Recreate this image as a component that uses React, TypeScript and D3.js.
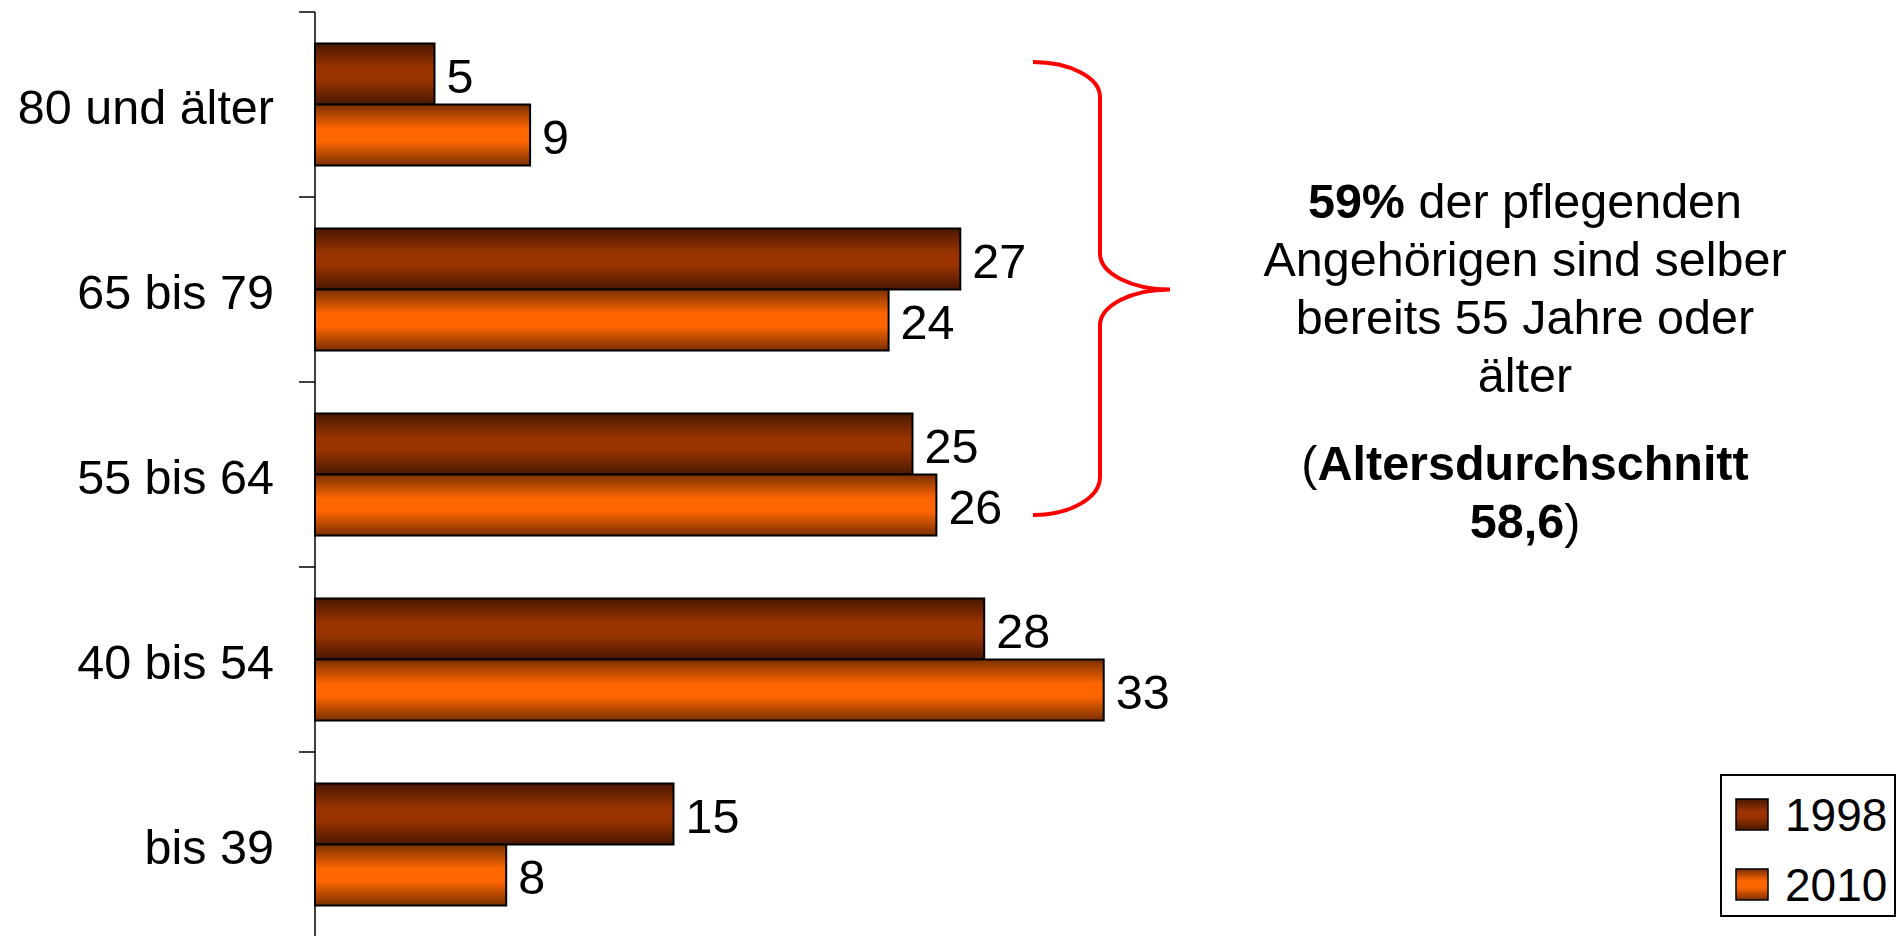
import * as d3 from "d3";
import { useEffect, useRef } from "react";

const categories = ["80 und älter", "65 bis 79", "55 bis 64", "40 bis 54", "bis 39"];
const seriesNames = ["1998", "2010"];
const values1998 = [5, 27, 25, 28, 15];
const values2010 = [9, 24, 26, 33, 8];

const seriesColors: Record<string, { base: string; dark: string }> = {
  "1998": { base: "#993300", dark: "#4a1800" },
  "2010": { base: "#ff6600", dark: "#7a3000" },
};

const FONT = "'Liberation Sans', Arial, sans-serif";
const FS = "48.5px";

const App = () => {
  const svgRef = useRef<SVGSVGElement>(null);

  useEffect(() => {
    const svg = d3.select(svgRef.current);
    svg.selectAll("*").remove();

    const width = 1897;
    const height = 936;
    svg.attr("width", width).attr("height", height);

    const axisX = 315;
    const top = 12;
    const bottom = 937;

    // gradients for the bars
    const defs = svg.append("defs");
    seriesNames.forEach((s) => {
      const grad = defs
        .append("linearGradient")
        .attr("id", `grad-${s}`)
        .attr("x1", 0)
        .attr("y1", 0)
        .attr("x2", 0)
        .attr("y2", 1);
      grad.append("stop").attr("offset", "0%").attr("stop-color", seriesColors[s].dark);
      grad.append("stop").attr("offset", "40%").attr("stop-color", seriesColors[s].base);
      grad.append("stop").attr("offset", "60%").attr("stop-color", seriesColors[s].base);
      grad.append("stop").attr("offset", "100%").attr("stop-color", seriesColors[s].dark);
    });

    const y0 = d3.scaleBand().domain(categories).range([top, bottom]).padding(0);
    const y1 = d3
      .scaleBand()
      .domain(seriesNames)
      .range([0, y0.bandwidth()])
      .paddingInner(0)
      .paddingOuter(0.516);
    const x = d3.scaleLinear().domain([0, 40]).range([axisX, axisX + 956]);

    const rows = categories.map((c, i) => ({
      category: c,
      vals: [
        { series: "1998", value: values1998[i] },
        { series: "2010", value: values2010[i] },
      ],
    }));

    const g = svg.append("g");

    // bars
    rows.forEach((row) => {
      const grp = g.append("g").attr("transform", `translate(0,${y0(row.category)})`);
      grp
        .selectAll("rect")
        .data(row.vals)
        .enter()
        .append("rect")
        .attr("x", x(0))
        .attr("y", (d) => y1(d.series) || 0)
        .attr("width", (d) => x(d.value) - x(0))
        .attr("height", y1.bandwidth())
        .attr("fill", (d) => `url(#grad-${d.series})`)
        .attr("stroke", "#000")
        .attr("stroke-width", 2);

      grp
        .selectAll("text")
        .data(row.vals)
        .enter()
        .append("text")
        .attr("x", (d) => x(d.value) + 12)
        .attr("y", (d) => (y1(d.series) || 0) + y1.bandwidth() / 2 + 19)
        .style("font-family", FONT)
        .style("font-size", FS)
        .style("fill", "#000")
        .text((d) => d.value);
    });

    // y axis
    const axis = g
      .append("g")
      .attr("transform", `translate(${axisX},0)`)
      .call(d3.axisLeft(y0).tickSize(0).tickPadding(41));
    axis.select(".domain").remove();
    axis
      .selectAll("text")
      .attr("dy", null)
      .attr("y", 19.5)
      .style("font-family", FONT)
      .style("font-size", FS)
      .style("fill", "#000");

    g.append("line")
      .attr("x1", axisX)
      .attr("x2", axisX)
      .attr("y1", top)
      .attr("y2", bottom)
      .attr("stroke", "#000")
      .attr("stroke-width", 1.5);

    const boundaries = categories.map((c) => y0(c) || 0).concat([bottom]);
    g.selectAll(".tick-mark")
      .data(boundaries)
      .enter()
      .append("line")
      .attr("class", "tick-mark")
      .attr("x1", axisX - 16)
      .attr("x2", axisX)
      .attr("y1", (d) => d)
      .attr("y2", (d) => d)
      .attr("stroke", "#000")
      .attr("stroke-width", 1.5);

    // brace over the 55+ groups
    const bTop = (y0(categories[0]) || 0) + 50;
    const bBot = (y0(categories[2]) || 0) + y0.bandwidth() - 52;
    const bMid = ((y0(categories[0]) || 0) + (y0(categories[2]) || 0) + y0.bandwidth()) / 2;
    const bx0 = 1033;
    const bx1 = 1100;
    const bx2 = 1170;
    const path = [
      `M${bx0},${bTop}`,
      `A${bx1 - bx0},35 0 0 1 ${bx1},${bTop + 35}`,
      `L${bx1},${bMid - 36}`,
      `A${bx2 - bx1},36 0 0 0 ${bx2},${bMid}`,
      `A${bx2 - bx1},36 0 0 0 ${bx1},${bMid + 36}`,
      `L${bx1},${bBot - 38}`,
      `A${bx1 - bx0},38 0 0 1 ${bx0},${bBot}`,
    ].join(" ");
    svg
      .append("path")
      .attr("d", path)
      .attr("fill", "none")
      .attr("stroke", "#ff0000")
      .attr("stroke-width", 4);

    // annotation text
    const lines: { bold?: string; text: string }[][] = [
      [{ bold: "59%", text: "" }, { text: " der pflegenden" }],
      [{ text: "Angehörigen sind selber" }],
      [{ text: "bereits 55 Jahre oder" }],
      [{ text: "älter" }],
      [{ text: "(" }, { bold: "Altersdurchschnitt", text: "" }],
      [{ bold: "58,6", text: "" }, { text: ")" }],
    ];
    const baselines = [218, 276, 334, 392, 480, 538];
    lines.forEach((parts, i) => {
      const t = svg
        .append("text")
        .attr("x", 1525)
        .attr("y", baselines[i])
        .attr("text-anchor", "middle")
        .style("font-family", FONT)
        .style("font-size", FS)
        .style("fill", "#000");
      parts.forEach((p) => {
        if (p.bold) t.append("tspan").style("font-weight", "bold").text(p.bold);
        else t.append("tspan").text(p.text);
      });
    });

    // legend
    const legend = svg.append("g");
    legend
      .append("rect")
      .attr("x", 1721)
      .attr("y", 775)
      .attr("width", 174)
      .attr("height", 141)
      .attr("fill", "#fff")
      .attr("stroke", "#000")
      .attr("stroke-width", 2);
    const items = legend
      .selectAll(".legend-item")
      .data(seriesNames)
      .enter()
      .append("g")
      .attr("class", "legend-item")
      .attr("transform", (d, i) => `translate(1736,${799 + i * 70})`);
    items
      .append("rect")
      .attr("width", 32)
      .attr("height", 31)
      .attr("fill", (d) => `url(#grad-${d})`)
      .attr("stroke", "#000")
      .attr("stroke-width", 1.5);
    items
      .append("text")
      .attr("x", 49)
      .attr("y", 32)
      .style("font-family", FONT)
      .style("font-size", "46px")
      .style("fill", "#000")
      .text((d) => d);
  }, []);

  return (
    <svg
      ref={svgRef}
      style={{ position: "absolute", left: 0, top: 0, display: "block", background: "#fff" }}
    ></svg>
  );
};

export default App;
